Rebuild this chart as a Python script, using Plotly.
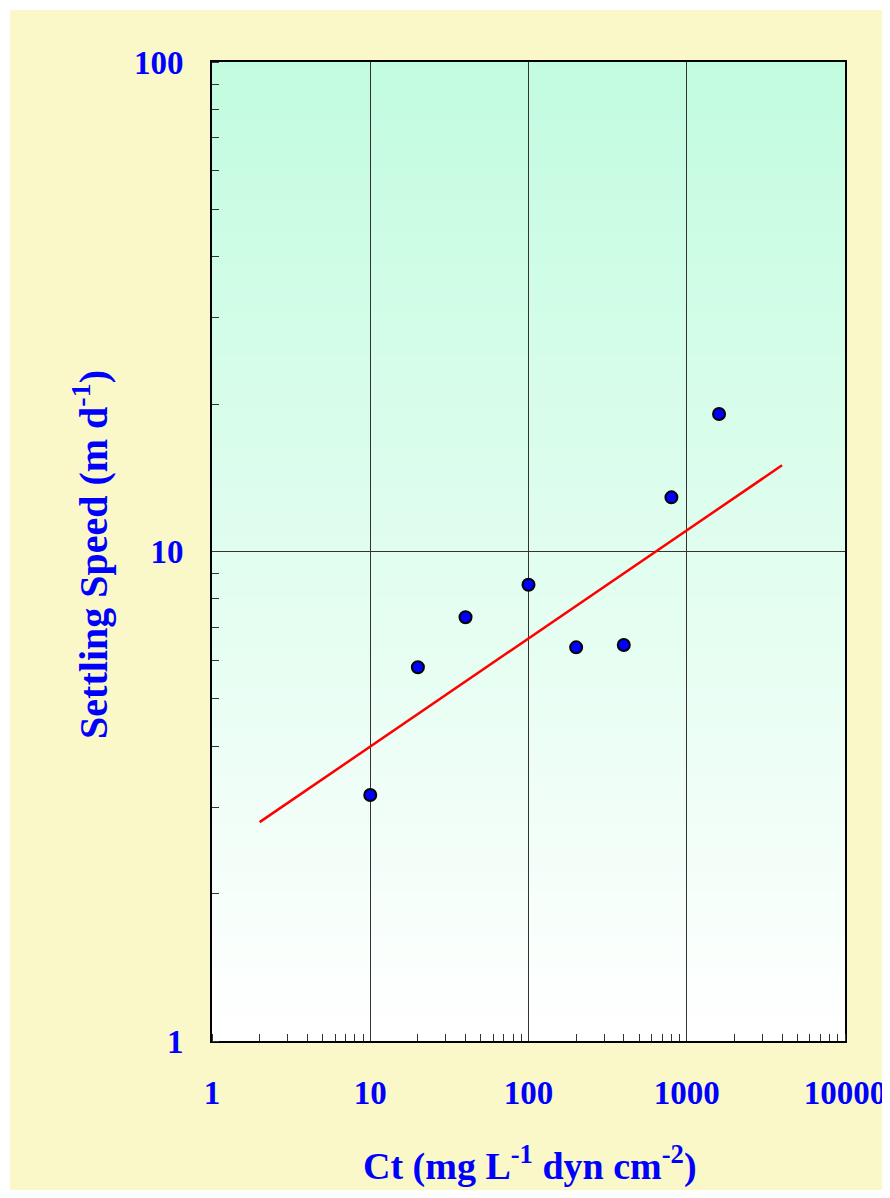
import plotly.graph_objects as go

# Data
ct = [10, 20, 40, 100, 200, 400, 800, 1600]
speed = [3.18, 5.80, 7.34, 8.55, 6.37, 6.44, 12.9, 19.1]
fit_ct = [2, 4000]
fit_speed = [2.80, 15.0]
x_tickvals = [1, 10, 100, 1000, 10000]
x_ticktext = ["1", "10", "100", "1000", "10000"]
y_tickvals = [1, 10, 100]
y_ticktext = ["1", "10", "100"]

BLUE = "#0000FF"
FONT = "Liberation Serif"

fig = go.Figure()
fig.add_trace(go.Scatter(x=fit_ct, y=fit_speed, mode="lines",
                         line=dict(color="#FF0000", width=2.5), showlegend=False))
fig.add_trace(go.Scatter(x=ct, y=speed, mode="markers",
                         marker=dict(color=BLUE, size=12, line=dict(color="black", width=2)),
                         showlegend=False))

shapes = []
# yellow background panel
shapes.append(dict(type="rect", xref="paper", yref="paper",
                   x0=-0.3191, x1=1.0664, y0=-0.1583, y1=1.0531,
                   fillcolor="#FAF8C8", line=dict(width=0), layer="below"))
# vertical gradient in plot area (white bottom -> mint top)
top = (194, 252, 223)
bot = (255, 255, 255)
n = 150
for i in range(n):
    t = (i + 0.5) / n
    c = tuple(int(round(bot[k] + (top[k] - bot[k]) * t)) for k in range(3))
    shapes.append(dict(type="rect", xref="paper", yref="paper",
                       x0=0, x1=1, y0=i / n, y1=(i + 1) / n + 0.002,
                       fillcolor="rgb(%d,%d,%d)" % c, line=dict(width=0), layer="below"))

fig.update_layout(
    width=882, height=1182,
    margin=dict(l=204, r=45, t=54, b=149, autoexpand=False),
    paper_bgcolor="white",
    plot_bgcolor="rgba(0,0,0,0)",
    shapes=shapes,
    font=dict(family=FONT, color=BLUE),
    annotations=[
        dict(text="Ct (mg L<sup>-1</sup> dyn cm<sup>-2</sup>)", xref="paper", yref="paper",
             x=0.5016, y=-0.1247, xanchor="center", yanchor="middle", showarrow=False,
             font=dict(family=FONT, size=38, color=BLUE, weight="bold")),
        dict(text="Settling Speed (m d<sup>-1</sup>)", xref="paper", yref="paper",
             x=-0.193, y=0.4974, xanchor="center", yanchor="middle", showarrow=False,
             textangle=-90,
             font=dict(family=FONT, size=40, color=BLUE, weight="bold")),
    ],
)

fig.update_xaxes(type="log", range=[0, 4], tickvals=x_tickvals, ticktext=x_ticktext,
                 tickfont=dict(family=FONT, size=33, color=BLUE, weight="bold"),
                 ticks="", ticklabelstandoff=21, automargin=False,
                 ticklabeloverflow="allow",
                 showgrid=True, gridcolor="#333333", gridwidth=1,
                 showline=True, linecolor="black", linewidth=2, mirror=True,
                 zeroline=False,
                 minor=dict(ticks="inside", ticklen=7, tickcolor="#333333", tickwidth=1,
                            dtick="D1", showgrid=False))
fig.update_yaxes(type="log", range=[0, 2], tickvals=y_tickvals, ticktext=y_ticktext,
                 tickfont=dict(family=FONT, size=33, color=BLUE, weight="bold"),
                 ticks="", ticklabelstandoff=20, automargin=False,
                 ticklabeloverflow="allow",
                 showgrid=True, gridcolor="#333333", gridwidth=1,
                 showline=True, linecolor="black", linewidth=2, mirror=True,
                 zeroline=False,
                 minor=dict(ticks="inside", ticklen=7, tickcolor="#333333", tickwidth=1,
                            dtick="D1", showgrid=False))

fig.write_html("out.html")
